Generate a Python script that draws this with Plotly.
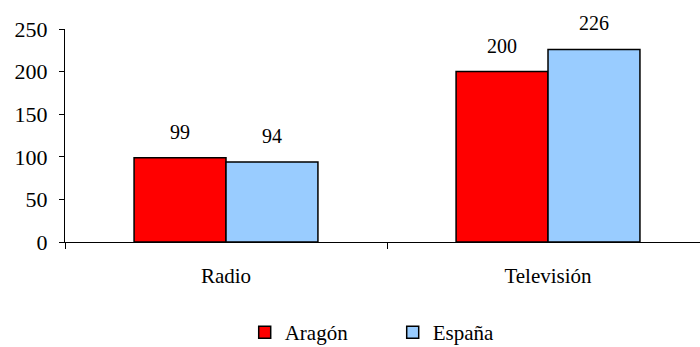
import plotly.graph_objects as go

categories = ["Radio", "Televisión"]
aragon = [99, 200]
espana = [94, 226]
series_names = ["Aragón", "España"]
y_ticks = [0, 50, 100, 150, 200, 250]

FONT = "Liberation Serif"

fig = go.Figure()
fig.add_trace(go.Bar(x=categories, y=aragon, name=series_names[0],
                     marker=dict(color="#FF0000", line=dict(color="#000000", width=1.5))))
fig.add_trace(go.Bar(x=categories, y=espana, name=series_names[1],
                     marker=dict(color="#99CCFF", line=dict(color="#000000", width=1.5))))

# data labels
for off, vals in ((-0.143, aragon), (0.143, espana)):
    for i, v in enumerate(vals):
        fig.add_annotation(x=i + off, y=v, text=str(v), showarrow=False,
                           xref="x", yref="y", yanchor="bottom", yshift=13,
                           font=dict(family=FONT, size=20, color="#000000"))

fig.update_layout(
    width=700, height=347,
    margin=dict(l=65, r=0, t=29, b=105, autoexpand=False),
    paper_bgcolor="white", plot_bgcolor="white",
    barmode="group", bargap=0.429, bargroupgap=0,
    font=dict(family=FONT, size=20, color="#000000"),
    showlegend=True,
    legend=dict(orientation="h", x=0.283, xanchor="left", y=-0.329, yanchor="top",
                font=dict(family=FONT, size=21), itemwidth=30, tracegroupgap=0,
                entrywidth=103, entrywidthmode="pixels",
                traceorder="normal"),
)
fig.update_xaxes(type="category", range=[-0.5, 1.472], showline=True, linecolor="#000000",
                 linewidth=1, ticks="outside", tickson="boundaries", ticklen=6,
                 tickcolor="#000000", showgrid=False, ticklabelstandoff=15,
                 automargin=False, tickfont=dict(family=FONT, size=21))
fig.update_yaxes(range=[0, 250], tickvals=y_ticks, showline=True, linecolor="#000000",
                 linewidth=1, ticks="outside", ticklen=5, tickcolor="#000000",
                 showgrid=False, zeroline=False, ticklabelstandoff=7,
                 automargin=False, tickfont=dict(family=FONT, size=22))

fig.write_html("out.html", config={"displayModeBar": False},
               post_script="document.body.style.margin='0px';")
